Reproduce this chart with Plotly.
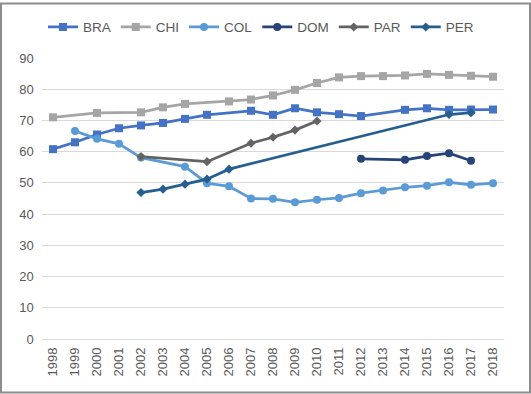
import plotly.graph_objects as go

years = [str(y) for y in range(1998, 2019)]
N = None
BRA = [60.8, 63.0, 65.5, 67.5, 68.4, 69.2, 70.5, 71.8, N, 73.1, 71.8, 73.9, 72.6, 72.0, 71.4, N, 73.4, 73.9, 73.4, 73.5, 73.5]
CHI = [71.0, N, 72.4, N, 72.6, 74.2, 75.3, N, 76.1, 76.7, 78.0, 79.8, 82.0, 83.8, 84.2, 84.2, 84.4, 84.9, 84.6, 84.3, 84.0]
COL = [N, 66.6, 64.1, 62.5, 58.1, N, 55.2, 49.9, 48.9, 45.0, 44.9, 43.8, 44.6, 45.2, 46.7, 47.6, 48.6, 49.1, 50.2, 49.4, 49.9]
DOM = [N, N, N, N, N, N, N, N, N, N, N, N, N, N, 57.7, N, 57.4, 58.6, 59.5, 57.1, N]
PAR = [N, N, N, N, 58.4, N, N, 56.8, N, 62.7, 64.6, 66.9, 69.8, N, N, N, N, N, N, N, N]
PER = [N, N, N, N, 46.9, 48.0, 49.6, 51.2, 54.4, N, N, N, N, N, N, N, N, N, 71.9, 72.5, N]

series = [
    ("BRA", BRA, "#4472C4", "square", 8),
    ("CHI", CHI, "#A5A5A5", "square", 8),
    ("COL", COL, "#5B9BD5", "circle", 8),
    ("DOM", DOM, "#264478", "circle", 8),
    ("PAR", PAR, "#636363", "diamond", 7),
    ("PER", PER, "#255E91", "diamond", 7),
]

fig = go.Figure()
for name, vals, col, sym, sz in series:
    fig.add_trace(go.Scatter(
        x=years, y=vals, name=name, mode="lines+markers", connectgaps=True,
        line=dict(color=col, width=2.75),
        marker=dict(symbol=sym, size=sz, color=col),
    ))

W, H = 531, 394
L, R, T, B = 42, 27, 56, 55
pw, ph = W - L - R, H - T - B

fig.update_layout(
    width=W, height=H,
    margin=dict(l=L, r=R, t=T, b=B),
    paper_bgcolor="white", plot_bgcolor="white",
    font=dict(family="Liberation Sans, Arial, sans-serif", color="#595959", size=13),
    showlegend=True,
    legend=dict(orientation="h", x=0.5 - 12 / pw, xanchor="center", y=1 + 31 / ph, yanchor="middle",
                font=dict(size=13.5), itemwidth=30, tracegroupgap=0),
    xaxis=dict(type="category", range=[-0.5, 20.5], tickangle=-90, showgrid=False,
               showline=False, ticks="", tickfont=dict(size=13), ticklabelstandoff=5),
    yaxis=dict(range=[0, 90], dtick=10, showgrid=True, gridcolor="#D9D9D9", gridwidth=1,
               zeroline=True, zerolinecolor="#D9D9D9", zerolinewidth=1, showline=False,
               ticks="", tickfont=dict(size=13), ticksuffix="  "),
    shapes=[dict(type="rect", xref="paper", yref="paper",
                 x0=(-L + 1) / pw, x1=1 + (R - 1) / pw,
                 y0=(-B + 1) / ph, y1=1 + (T - 1) / ph,
                 line=dict(color="#8C8C8C", width=2), fillcolor="rgba(0,0,0,0)", layer="above")],
)

fig.write_html("out.html", config={"displayModeBar": False},
               post_script="document.body.style.margin='0';document.body.style.overflow='hidden';")
